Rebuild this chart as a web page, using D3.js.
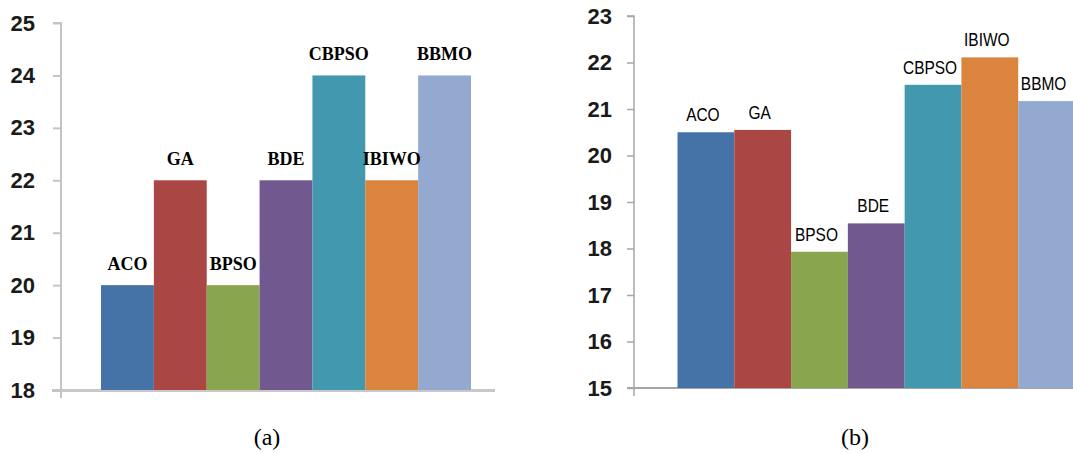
<!DOCTYPE html>
<html><head><meta charset="utf-8">
<script src="https://cdn.jsdelivr.net/npm/d3@7"></script>
<style>
html,body{margin:0;padding:0;background:#fff;}
svg{display:block;}
</style></head>
<body>
<svg id="chart" width="1073" height="453"></svg>
<script>
const categories = ["ACO","GA","BPSO","BDE","CBPSO","IBIWO","BBMO"];
const valuesA = [20, 22, 20, 22, 24, 22, 24];
const valuesB = [20.5, 20.55, 17.93, 18.54, 21.52, 22.11, 21.17];
const ticksA = [18,19,20,21,22,23,24,25];
const ticksB = [15,16,17,18,19,20,21,22,23];
const colors = ["#4572a7","#aa4643","#89a54e","#71588f","#4198af","#db843d","#93a9cf"];
const captions = ["(a)","(b)"];

const svg = d3.select("#chart");

function panel(cfg){
  const g = svg.append("g");
  const y = d3.scaleLinear().domain(cfg.domain).range([cfg.y0, cfg.y1]);
  const x = d3.scaleBand().domain(categories).range(cfg.xr).padding(0);
  g.append("line").attr("x1",cfg.baseX[0]).attr("x2",cfg.baseX[1])
    .attr("y1",y(cfg.domain[0])+cfg.baseOff).attr("y2",y(cfg.domain[0])+cfg.baseOff)
    .attr("stroke",cfg.baseColor).attr("stroke-width",cfg.baseW);
  g.selectAll("rect.bar").data(cfg.values).join("rect")
    .attr("x",(d,i)=>x(categories[i]))
    .attr("width",x.bandwidth())
    .attr("y",d=>y(d))
    .attr("height",d=>y(cfg.domain[0])-y(d))
    .attr("fill",(d,i)=>colors[i]);
  const ax = d3.axisLeft(y).tickValues(cfg.ticks).tickSize(cfg.tickSize).tickPadding(cfg.tickPad).tickFormat(d3.format("d"));
  const ag = g.append("g").attr("transform",`translate(${cfg.axisX},0)`).call(ax);
  ag.select(".domain").attr("stroke",cfg.axisColor).attr("stroke-width",cfg.axisW)
    .attr("d",`M${-cfg.tickSize},${cfg.y1}H0V${cfg.axisBottom}`);
  ag.selectAll(".tick line").attr("stroke",cfg.axisColor).attr("stroke-width",cfg.axisW);
  ag.selectAll(".tick text").attr("fill","#1a1a1a")
    .style("font-family","'Liberation Sans', Arial, sans-serif")
    .style("font-weight","bold").style("font-size","22px");
  g.selectAll("text.lbl").data(cfg.values).join("text")
    .attr("class","lbl")
    .attr("transform",(d,i)=>`translate(${x(categories[i])+x.bandwidth()/2 + cfg.lblDx},${y(d)-cfg.lblGap}) scale(${cfg.lblScaleX},1)`)
    .attr("text-anchor","middle")
    .style("font-family",cfg.lblFont)
    .style("font-weight",cfg.lblWeight)
    .style("font-size",cfg.lblSize)
    .attr("fill","#000")
    .text((d,i)=>categories[i]);
  g.append("text").attr("x",cfg.capX).attr("y",445).attr("text-anchor","middle")
    .style("font-family","'Liberation Serif', 'Times New Roman', serif")
    .style("font-size","24px").attr("fill","#000").text(cfg.caption);
}

panel({domain:[18,25], y0:390, y1:23, xr:[101,471], values:valuesA, ticks:ticksA,
  axisX:61, axisBottom:398, tickSize:8, tickPad:18, axisColor:"#c4c4c4", axisW:2,
  baseX:[52,495], baseOff:0.5, baseColor:"#c8c8c8", baseW:3,
  lblFont:"'Liberation Serif', 'Times New Roman', serif", lblWeight:"bold", lblSize:"18px", lblGap:15, lblDx:0, lblScaleX:1,
  capX:267, caption:captions[0]});

panel({domain:[15,23], y0:388, y1:16, xr:[677.5,1075], values:valuesB, ticks:ticksB,
  axisX:634, axisBottom:396, tickSize:7, tickPad:15, axisColor:"#a6a6a6", axisW:1.5,
  baseX:[627,1073], baseOff:0, baseColor:"#a6a6a6", baseW:2,
  lblFont:"'Liberation Sans', Arial, sans-serif", lblWeight:"normal", lblSize:"18px", lblGap:11, lblDx:-3, lblScaleX:0.86,
  capX:855, caption:captions[1]});
</script>
</body></html>
